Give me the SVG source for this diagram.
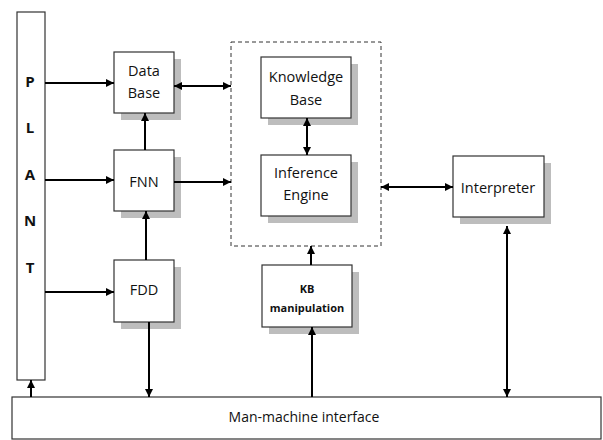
<svg xmlns="http://www.w3.org/2000/svg" width="603" height="440" viewBox="0 0 603 440">
  <style>
    .box { fill: #ffffff; stroke: #333333; stroke-width: 1.2; }
    .shadow { fill: #bdbdbd; }
    .lbl { font-family: "Open Sans", "Noto Sans", "Liberation Sans", sans-serif; font-size: 14.5px; fill: #111111; text-anchor: middle; }
    .plant { font-family: "Open Sans", "Noto Sans", "Liberation Sans", sans-serif; font-size: 15px; font-weight: bold; fill: #111111; text-anchor: middle; }
    .small { font-family: "Open Sans", "Noto Sans", "Liberation Sans", sans-serif; font-size: 11px; font-weight: bold; fill: #111111; text-anchor: middle; }
    .wire { stroke: #000000; stroke-width: 2; fill: none; }
    .dash { fill: none; stroke: #333333; stroke-width: 1; stroke-dasharray: 4 3; }
  </style>
  <defs>
    <marker id="head" viewBox="0 0 10 10" refX="10" refY="5" markerWidth="4" markerHeight="4" orient="auto-start-reverse" markerUnits="strokeWidth">
      <path d="M0,0 L10,5 L0,10 z" fill="#000000"/>
    </marker>
  </defs>
  <rect width="603" height="440" fill="#ffffff"/>

  <g id="plant">
    <rect class="box" x="17" y="12" width="28" height="368"/>
    <text class="plant" x="30" y="87">P</text>
    <text class="plant" x="30" y="133">L</text>
    <text class="plant" x="30" y="180">A</text>
    <text class="plant" x="30" y="226">N</text>
    <text class="plant" x="30" y="273">T</text>
  </g>

  <g id="database">
    <rect class="shadow" x="121" y="59" width="60" height="61"/>
    <rect class="box" x="114" y="52" width="60" height="61"/>
    <text class="lbl" x="144" y="76">Data</text>
    <text class="lbl" x="144" y="98">Base</text>
  </g>

  <g id="fnn">
    <rect class="shadow" x="121" y="157" width="60" height="61"/>
    <rect class="box" x="114" y="150" width="60" height="61"/>
    <text class="lbl" x="144" y="187">FNN</text>
  </g>

  <g id="fdd">
    <rect class="shadow" x="121" y="267" width="60" height="62"/>
    <rect class="box" x="114" y="260" width="60" height="62"/>
    <text class="lbl" x="144" y="295">FDD</text>
  </g>

  <g id="expert-system">
    <rect class="dash" x="231" y="42" width="150" height="204"/>
  </g>

  <g id="knowledge-base">
    <rect class="shadow" x="268" y="64" width="90" height="61"/>
    <rect class="box" x="261" y="57" width="90" height="61"/>
    <text class="lbl" x="306" y="82">Knowledge</text>
    <text class="lbl" x="306" y="105">Base</text>
  </g>

  <g id="inference-engine">
    <rect class="shadow" x="268" y="162" width="90" height="61"/>
    <rect class="box" x="261" y="155" width="90" height="61"/>
    <text class="lbl" x="306" y="178">Inference</text>
    <text class="lbl" x="306" y="200">Engine</text>
  </g>

  <g id="interpreter">
    <rect class="shadow" x="460" y="163" width="91" height="61"/>
    <rect class="box" x="453" y="156" width="91" height="61"/>
    <text class="lbl" x="498" y="193">Interpreter</text>
  </g>

  <g id="kb-manipulation">
    <rect class="shadow" x="269" y="272" width="90" height="62"/>
    <rect class="box" x="262" y="265" width="90" height="62"/>
    <text class="small" x="307" y="293">KB</text>
    <text class="small" x="307" y="312">manipulation</text>
  </g>

  <g id="man-machine-interface">
    <rect class="box" x="12" y="397" width="589" height="42"/>
    <text class="lbl" x="304" y="422" style="font-size:14px">Man-machine interface</text>
  </g>

  <g id="connectors">
    <line class="wire" x1="45" y1="83" x2="114" y2="83" marker-end="url(#head)"/>
    <line class="wire" x1="45" y1="180" x2="114" y2="180" marker-end="url(#head)"/>
    <line class="wire" x1="45" y1="292" x2="114" y2="292" marker-end="url(#head)"/>
    <line class="wire" x1="145" y1="150" x2="145" y2="113" marker-end="url(#head)"/>
    <line class="wire" x1="146" y1="260" x2="146" y2="211" marker-end="url(#head)"/>
    <line class="wire" x1="174" y1="86" x2="231" y2="86" marker-start="url(#head)" marker-end="url(#head)"/>
    <line class="wire" x1="174" y1="182" x2="231" y2="182" marker-end="url(#head)"/>
    <line class="wire" x1="307" y1="118" x2="307" y2="155" marker-start="url(#head)" marker-end="url(#head)"/>
    <line class="wire" x1="381" y1="187" x2="453" y2="187" marker-start="url(#head)" marker-end="url(#head)"/>
    <line class="wire" x1="507" y1="226" x2="507" y2="397" marker-start="url(#head)" marker-end="url(#head)"/>
    <line class="wire" x1="311" y1="265" x2="311" y2="246" marker-end="url(#head)"/>
    <line class="wire" x1="312" y1="397" x2="312" y2="327" marker-end="url(#head)"/>
    <line class="wire" x1="149" y1="322" x2="149" y2="397" marker-end="url(#head)"/>
    <line class="wire" x1="31" y1="397" x2="31" y2="380" marker-end="url(#head)"/>
  </g>
</svg>
